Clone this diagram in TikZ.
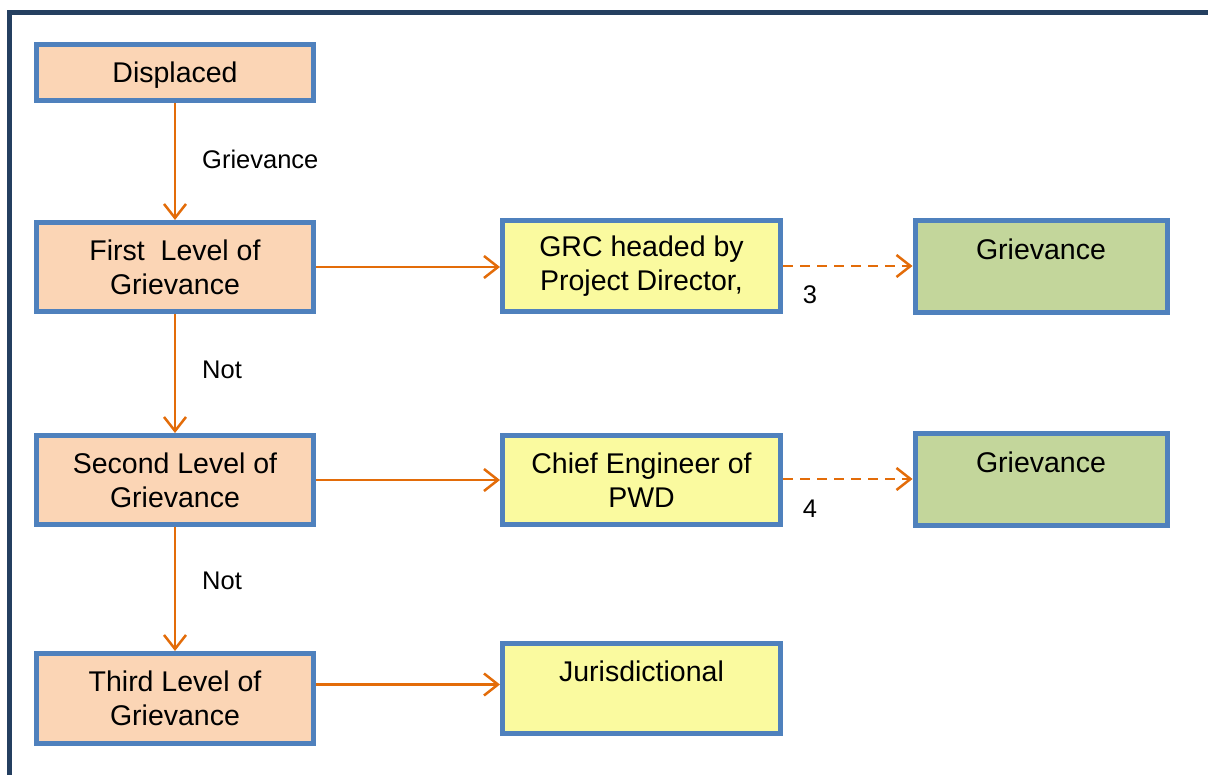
\documentclass[tikz,border=0pt]{standalone}
\usepackage{fontspec}
\setmainfont{Liberation Sans}
\usetikzlibrary{arrows.meta}
\definecolor{framec}{HTML}{243F60}
\definecolor{bordc}{HTML}{4F81BD}
\definecolor{peach}{HTML}{FBD5B5}
\definecolor{yel}{HTML}{FAFA9F}
\definecolor{grn}{HTML}{C3D69B}
\definecolor{orng}{HTML}{E36C09}
\begin{document}
\begin{tikzpicture}[x=1pt,y=-1pt,
  box/.style={draw=bordc, line width=5pt, inner sep=0pt, align=center,
    font=\fontsize{28.5}{34}\selectfont, text=black},
  leftbox/.style={box, fill=peach, minimum width=277pt, minimum height=89pt},
  midbox/.style={box, fill=yel, minimum width=278pt, minimum height=91pt},
  rightbox/.style={box, fill=grn, minimum width=252pt, minimum height=92pt},
  lbl/.style={font=\fontsize{25.5}{30}\selectfont, inner sep=0pt},
  arr/.style={draw=orng, line width=2.5pt, -{Straight Barb[length=14pt,width=22pt,line width=2.5pt]}},
  darr/.style={arr, dash pattern=on 10pt off 7pt}]
\useasboundingbox (0,0) rectangle (1208,775);
% frame
\draw[framec, line width=5pt] (9.5,780) -- (9.5,12.5) -- (1215,12.5);
% left column
\node[leftbox, minimum height=56pt, text depth=0pt] (disp) at (175,72.5) {Displaced};
\node[leftbox] (first) at (175,267) {First\ \ Level of\\Grievance};
\node[leftbox] (second) at (175,480) {Second Level of\\Grievance};
\node[leftbox, minimum height=90pt] (third) at (175,698.5) {Third Level of\\Grievance};
% middle column
\node[midbox] (grc) at (641.5,266) {GRC headed by\\Project Director,};
\node[midbox, minimum height=89pt] (chief) at (641.5,480) {Chief Engineer of\\PWD};
\node[midbox, minimum height=90pt] (jur) at (641.5,688.5) {Jurisdictional\\\phantom{Jurisdictional}};
% right column
\node[rightbox] (g1) at (1041,266.5) {Grievance\\\phantom{Grievance}};
\node[rightbox] (g2) at (1041,479.5) {Grievance\\\phantom{Grievance}};
% vertical arrows
\draw[arr] (disp.south) -- (first.north);
\draw[arr] (first.south) -- (second.north);
\draw[arr] (second.south) -- (third.north);
% horizontal arrows
\draw[arr] (first.east) -- (first.east -| grc.west);
\draw[arr] (second.east) -- (second.east -| chief.west);
\draw[arr] ([yshift=14pt]third.east) -- ([yshift=14pt]third.east -| jur.west);
\draw[darr] (grc.east) -- (grc.east -| g1.west);
\draw[darr] ([yshift=1pt]chief.east) -- ([yshift=1pt]chief.east -| g2.west);
% labels
\node[lbl, anchor=west] (lg) at (202,159) {Grievance};
\node[lbl, anchor=west] (ln1) at (202,370) {Not};
\node[lbl, anchor=west] (ln2) at (202,581) {Not};
\node[lbl] (l3) at (810,295) {3};
\node[lbl] (l4) at (810,509) {4};
\end{tikzpicture}
\end{document}
